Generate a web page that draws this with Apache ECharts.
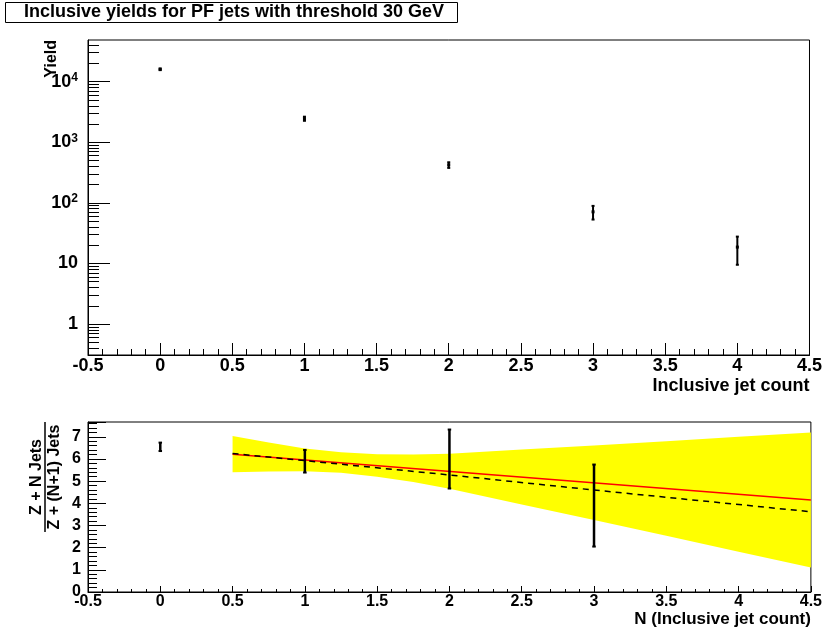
<!DOCTYPE html>
<html><head><meta charset="utf-8">
<script src="https://cdn.jsdelivr.net/npm/echarts@6/dist/echarts.min.js"></script>
<style>html,body{margin:0;padding:0;background:#fff}#c{width:825px;height:635px}</style>
</head><body><div id="c"></div>
<script>
const FONT = '"Liberation Sans", Arial, Helvetica, sans-serif';

// ---- top panel: inclusive yields ----
const topN = [0, 1, 2, 3, 4];
const topYield = [16000, 2450, 422, 71, 18.6];
const topYieldErr = [500, 190, 45, 18, 9.1];
const topMajorTicks = [1, 10, 100, 1000, 10000];
const topMinorTicks = [0.4, 0.5, 0.6, 0.7, 0.8, 0.9,
  2, 3, 4, 5, 6, 7, 8, 9,
  20, 30, 40, 50, 60, 70, 80, 90,
  200, 300, 400, 500, 600, 700, 800, 900,
  2000, 3000, 4000, 5000, 6000, 7000, 8000, 9000,
  20000, 30000, 40000];

// ---- bottom panel: ratio ----
const ratioN = [0, 1, 2, 3];
const ratio = [6.55, 5.9, 6.0, 3.9];
const ratioErr = [0.19, 0.51, 1.33, 1.85];
const fitX = [0.5, 4.5];
const fitY = [6.22, 4.15];
const altFitX = [0.5, 2, 3, 4.5];
const altFitY = [6.25, 5.28, 4.60, 3.62];
const bandX  = [0.5, 0.75, 1, 1.25, 1.5, 1.75, 2, 2.5, 3, 3.5, 4, 4.5];
const bandHi = [7.04, 6.74, 6.47, 6.30, 6.22, 6.20, 6.24, 6.43, 6.61, 6.80, 7.00, 7.20];
const bandLo = [5.40, 5.44, 5.45, 5.38, 5.20, 4.96, 4.66, 3.95, 3.25, 2.54, 1.82, 1.10];

function errorBars(o) {
  return function (params, api) {
    const x = api.value(0), y = api.value(1), e = api.value(2);
    const t = api.coord([x, y + e]), b = api.coord([x, y - e]), m = api.coord([x, y]);
    const c = [
      {type: 'line', shape: {x1: t[0], y1: t[1], x2: b[0], y2: b[1]}, style: {stroke: '#000', lineWidth: o.lw}},
      {type: 'rect', shape: {x: t[0] - o.cap / 2, y: t[1] - 1, width: o.cap, height: 2}, style: {fill: '#000'}},
      {type: 'rect', shape: {x: b[0] - o.cap / 2, y: b[1] - 1, width: o.cap, height: 2}, style: {fill: '#000'}}
    ];
    if (o.marker) c.push({type: 'rect', shape: {x: m[0] - o.marker / 2, y: m[1] - o.marker / 2, width: o.marker, height: o.marker}, style: {fill: '#000'}});
    return {type: 'group', children: c};
  };
}

const lbl = (size) => ({fontFamily: FONT, fontWeight: 'bold', fontSize: size, color: '#000'});

const chart = echarts.init(document.getElementById('c'), null, {renderer: 'canvas'});
chart.setOption({
  animation: false,
  backgroundColor: '#fff',
  title: {
    text: 'Inclusive yields for PF jets with threshold 30 GeV',
    left: 5, top: 2, padding: [1, 14, 1, 19],
    borderColor: '#000', borderWidth: 1, backgroundColor: '#fff',
    textStyle: Object.assign(lbl(18), {lineHeight: 19})
  },
  grid: [
    {left: 88, top: 40, width: 724, height: 315, show: true, borderColor: '#000', borderWidth: 1, backgroundColor: 'transparent'},
    {left: 88, top: 422, width: 724, height: 170, show: true, borderColor: '#000', borderWidth: 1, backgroundColor: 'transparent'}
  ],
  xAxis: [
    {gridIndex: 0, type: 'value', min: -0.5, max: 4.5, interval: 0.5,
     axisLine: {show: true, onZero: false, lineStyle: {color: '#000', width: 1}},
     axisTick: {show: true, inside: true, length: 12, lineStyle: {color: '#000'}},
     minorTick: {show: true, splitNumber: 5, length: 6, lineStyle: {color: '#000'}},
     axisLabel: Object.assign(lbl(18), {margin: 2}),
     splitLine: {show: false},
     name: 'Inclusive jet count', nameLocation: 'end', nameGap: 0,
     nameTextStyle: Object.assign(lbl(18), {align: 'right', verticalAlign: 'top', padding: [22, 0, 0, 0]})},
    {gridIndex: 1, type: 'value', min: -0.5, max: 4.5, interval: 0.5,
     axisLine: {show: true, onZero: false, lineStyle: {color: '#000', width: 1}},
     axisTick: {show: true, inside: true, length: 6, lineStyle: {color: '#000'}},
     minorTick: {show: true, splitNumber: 5, length: 3, lineStyle: {color: '#000'}},
     axisLabel: Object.assign(lbl(16), {margin: 2}),
     splitLine: {show: false},
     name: 'N (Inclusive jet count)', nameLocation: 'end', nameGap: 0,
     nameTextStyle: Object.assign(lbl(17), {align: 'right', verticalAlign: 'top', padding: [19, 0, 0, 0]})}
  ],
  yAxis: [
    {gridIndex: 0, type: 'log', logBase: 10, min: 0.308, max: 48700,
     axisLine: {show: true, onZero: false, lineStyle: {color: '#000'}},
     axisTick: {show: true, inside: true, length: 22, customValues: topMajorTicks, lineStyle: {color: '#000'}},
     minorTick: {show: false},
     splitLine: {show: false},
     axisLabel: Object.assign(lbl(18), {
       margin: 10, customValues: topMajorTicks,
       formatter: function (v) {
         const n = Math.round(Math.log10(v));
         if (n === 0) return '1';
         if (n === 1) return '10';
         return '{p|10}{s|' + n + '}';
       },
       rich: {
         p: Object.assign(lbl(18), {lineHeight: 20}),
         s: Object.assign(lbl(12), {lineHeight: 12, verticalAlign: 'top'})
       }
     })},
    {gridIndex: 0, type: 'log', logBase: 10, min: 0.308, max: 48700, position: 'left',
     axisLine: {show: false, onZero: false},
     axisTick: {show: true, inside: true, length: 11, customValues: topMinorTicks, lineStyle: {color: '#000'}},
     axisLabel: {show: false},
     splitLine: {show: false}},
    {gridIndex: 1, type: 'value', min: 0, max: 7.67, interval: 1,
     axisLine: {show: true, onZero: false, lineStyle: {color: '#000'}},
     axisTick: {show: true, inside: true, length: 18, lineStyle: {color: '#000'}},
     minorTick: {show: true, splitNumber: 5, length: 9, lineStyle: {color: '#000'}},
     splitLine: {show: false},
     axisLabel: Object.assign(lbl(16), {margin: 7, formatter: v => (Math.abs(v - Math.round(v)) < 1e-6 ? String(Math.round(v)) : '')})}
  ],
  series: [
    {type: 'custom', xAxisIndex: 0, yAxisIndex: 0, encode: {x: 0, y: 1}, z: 5,
     data: topN.map((n, i) => [n, topYield[i], topYieldErr[i]]),
     renderItem: errorBars({lw: 2, cap: 3, marker: 3})},
    {type: 'custom', xAxisIndex: 1, yAxisIndex: 2, encode: {x: 0, y: 1}, z: 1,
     data: [[bandX[0], bandHi[0]]],
     renderItem: function (params, api) {
       const pts = [];
       for (let i = 0; i < bandX.length; i++) pts.push(api.coord([bandX[i], bandHi[i]]));
       for (let i = bandX.length - 1; i >= 0; i--) pts.push(api.coord([bandX[i], bandLo[i]]));
       return {type: 'polygon', shape: {points: pts}, style: {fill: '#ffff00', stroke: null}};
     }},
    {type: 'line', xAxisIndex: 1, yAxisIndex: 2, z: 3, showSymbol: false, symbol: 'none',
     data: fitX.map((x, i) => [x, fitY[i]]),
     lineStyle: {color: '#ff0000', width: 1.5}},
    {type: 'line', xAxisIndex: 1, yAxisIndex: 2, z: 4, showSymbol: false, symbol: 'none',
     data: altFitX.map((x, i) => [x, altFitY[i]]),
     lineStyle: {color: '#000', width: 1.5, type: [6, 5]}},
    {type: 'custom', xAxisIndex: 1, yAxisIndex: 2, encode: {x: 0, y: 1}, z: 6,
     data: ratioN.map((n, i) => [n, ratio[i], ratioErr[i]]),
     renderItem: errorBars({lw: 2.5, cap: 3.5, marker: 0})}
  ],
  graphic: [
    {type: 'text', x: 52, y: 40, rotation: Math.PI / 2, z: 10,
     style: {text: 'Yield', align: 'right', verticalAlign: 'middle', fill: '#000', font: 'bold 16px ' + FONT}},
    {type: 'text', x: 37, y: 477, rotation: Math.PI / 2, z: 10,
     style: {text: 'Z + N Jets', align: 'center', verticalAlign: 'middle', fill: '#000', font: 'bold 16px ' + FONT}},
    {type: 'line', shape: {x1: 45, y1: 422, x2: 45, y2: 532}, style: {stroke: '#000', lineWidth: 1.5}, z: 10},
    {type: 'text', x: 54.5, y: 477, rotation: Math.PI / 2, z: 10,
     style: {text: 'Z + (N+1) Jets', align: 'center', verticalAlign: 'middle', fill: '#000', font: 'bold 16px ' + FONT}}
  ]
});
</script></body></html>
